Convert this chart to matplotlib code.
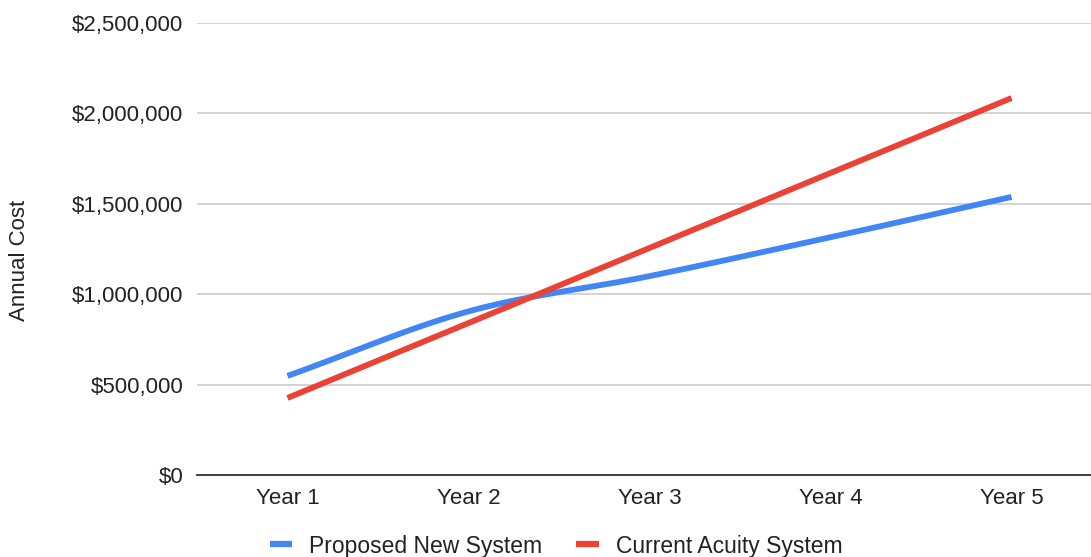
import numpy as np
import matplotlib.pyplot as plt
from matplotlib.ticker import FuncFormatter

# annual cost per year, in dollars
years = ['Year 1', 'Year 2', 'Year 3', 'Year 4', 'Year 5']
proposed = [548000, 905000, 1100000, 1315000, 1538000]
current = [426000, 840000, 1256000, 1670000, 2085000]

blue = '#4285F4'
red = '#EA4335'

plt.rcParams['font.family'] = ['Liberation Sans', 'DejaVu Sans']


def smooth(xs, ys, n=40):
    # catmull-rom curve through the points, like a "smooth line" chart
    xs = np.asarray(xs, float)
    ys = np.asarray(ys, float)
    px = np.concatenate([[2 * xs[0] - xs[1]], xs, [2 * xs[-1] - xs[-2]]])
    py = np.concatenate([[2 * ys[0] - ys[1]], ys, [2 * ys[-1] - ys[-2]]])
    out_x, out_y = [], []
    t = np.linspace(0, 1, n)
    for i in range(1, len(px) - 2):
        for arr, out in ((px, out_x), (py, out_y)):
            p0, p1, p2, p3 = arr[i - 1], arr[i], arr[i + 1], arr[i + 2]
            seg = 0.5 * ((2 * p1) + (-p0 + p2) * t
                         + (2 * p0 - 5 * p1 + 4 * p2 - p3) * t ** 2
                         + (-p0 + 3 * p1 - 3 * p2 + p3) * t ** 3)
            out.extend(seg)
    return np.array(out_x), np.array(out_y)


fig = plt.figure(figsize=(10.91, 5.57), dpi=100)
ax = fig.add_axes([197 / 1091, 1 - 475 / 557, 905 / 1091, 452 / 557])

x = np.arange(len(years))
sx, sy = smooth(x, proposed)
ax.plot(sx, sy, color=blue, lw=4.2, solid_capstyle='butt', label='Proposed New System')
sx, sy = smooth(x, current)
ax.plot(sx, sy, color=red, lw=4.2, solid_capstyle='butt', label='Current Acuity System')

ax.set_xlim(-0.5, len(years) - 0.5)
ax.set_ylim(0, 2500000)
ax.set_yticks(np.arange(0, 2500001, 500000))
ax.yaxis.set_major_formatter(FuncFormatter(lambda v, p: '${:,.0f}'.format(v)))
ax.set_xticks(x)
ax.set_xticklabels(years)

ax.grid(axis='y', color='#cccccc', lw=1.2)
ax.set_axisbelow(True)
for s in ['top', 'right', 'left']:
    ax.spines[s].set_visible(False)
ax.spines['bottom'].set_color('#333333')
ax.spines['bottom'].set_linewidth(1.3)
ax.tick_params(length=0, labelsize=16, colors='#222222')
ax.tick_params(axis='y', pad=10)
ax.tick_params(axis='x', pad=9.5)

fig.text(20 / 1091, 1 - 260 / 557, 'Annual Cost', rotation=90, ha='center', va='center',
         fontsize=16, color='#222222')

fig.legend(loc='center', bbox_to_anchor=(556 / 1091, 1 - 546 / 557), ncol=2, frameon=False,
           fontsize=16.5, handlelength=1.0, handletextpad=0.72, columnspacing=1.5,
           labelcolor='#222222', borderaxespad=0, borderpad=0)
for h in fig.legends[0].legend_handles:
    h.set_linewidth(4.5)

fig.savefig('out.png', dpi=100)
